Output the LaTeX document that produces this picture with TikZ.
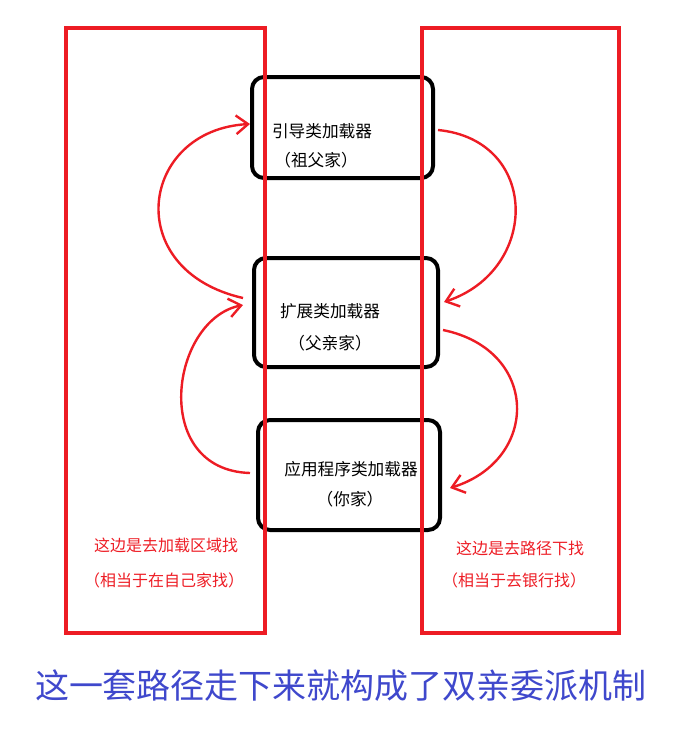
\documentclass[tikz,border=0pt]{standalone}
\usepackage{fontspec}
\setmainfont{Noto Sans CJK SC}
\usetikzlibrary{arrows.meta,positioning}
\definecolor{penred}{RGB}{237,28,36}
\definecolor{penblue}{RGB}{63,72,204}
\tikzset{
    %Define standard arrow tip
    >={Straight Barb[length=9pt,width=14pt]},
    %Define style for boxes
    loadernode/.style={
             draw=black, line width=3pt,
             rounded corners=9pt,
             font=\fontsize{12pt}{15pt}\selectfont, align=center},
    areanode/.style={
             draw=penred, line width=3pt},
    % Define arrow style
    askarrow/.style={
            ->,
            penred,
            line width=1.8pt},
    notetext/.style={
            text=penred,
            font=\fontsize{12pt}{15pt}\selectfont}
}
\begin{document}
\begin{tikzpicture}[x=0.75pt,y=-0.75pt]
 \useasboundingbox (0,0) rectangle (683,746);
 \node[loadernode, minimum width=181*0.75pt, minimum height=101*0.75pt] (boot) at (342.5,127.5) {};
 \node[loadernode, minimum width=184*0.75pt, minimum height=109*0.75pt] (ext) at (346,312.5) {};
 \node[loadernode, minimum width=182*0.75pt, minimum height=110*0.75pt] (app) at (349,475) {};
 \node[areanode, minimum width=199*0.75pt, minimum height=605*0.75pt] (left) at (165.5,330.5) {};
 \node[areanode, minimum width=197*0.75pt, minimum height=605*0.75pt] (right) at (520.5,330.5) {};
 \node[font=\fontsize{12.5pt}{15pt}\selectfont] (boottext) at (322,131) {引导类加载器};
 \node[font=\fontsize{12.5pt}{15pt}\selectfont] (bootsub) at (316,160) {（祖父家）};
 \node[font=\fontsize{12.5pt}{15pt}\selectfont] (exttext) at (330,311) {扩展类加载器};
 \node[font=\fontsize{12.5pt}{15pt}\selectfont] (extsub) at (330,343) {（父亲家）};
 \node[font=\fontsize{12.5pt}{15pt}\selectfont] (apptext) at (351,469) {应用程序类加载器};
 \node[font=\fontsize{12.5pt}{15pt}\selectfont] (appsub) at (350,499) {（你家）};
 \node[notetext] (leftnote) at (166,545) {这边是去加载区域找};
 \node[notetext] (leftsub) at (164,580) {（相当于在自己家找）};
 \node[notetext] (rightnote) at (520,548) {这边是去路径下找};
 \node[notetext] (rightsub) at (514,580) {（相当于去银行找）};
 \node[text=penblue, font=\fontsize{25.5pt}{28pt}\selectfont] (summary) at (341,686) {这一套路径走下来就构成了双亲委派机制};
 \coordinate (a1) at (250,473);
 \coordinate (a2) at (243,305);
 \coordinate (b1) at (243,298);
 \coordinate (b2) at (250,124);
 \coordinate (c1) at (438,130);
 \coordinate (c2) at (444,302);
 \coordinate (d1) at (443,330);
 \coordinate (d2) at (450,488);
 \draw[askarrow] (a1) .. controls (150,470) and (170,320) .. (a2);
 \draw[askarrow] (b1) .. controls (120,270) and (140,130) .. (b2);
 \draw[askarrow] (c1) .. controls (540,140) and (540,270) .. (c2);
 \draw[askarrow] (d1) .. controls (540,350) and (540,460) .. (d2);
\end{tikzpicture}
\end{document}
